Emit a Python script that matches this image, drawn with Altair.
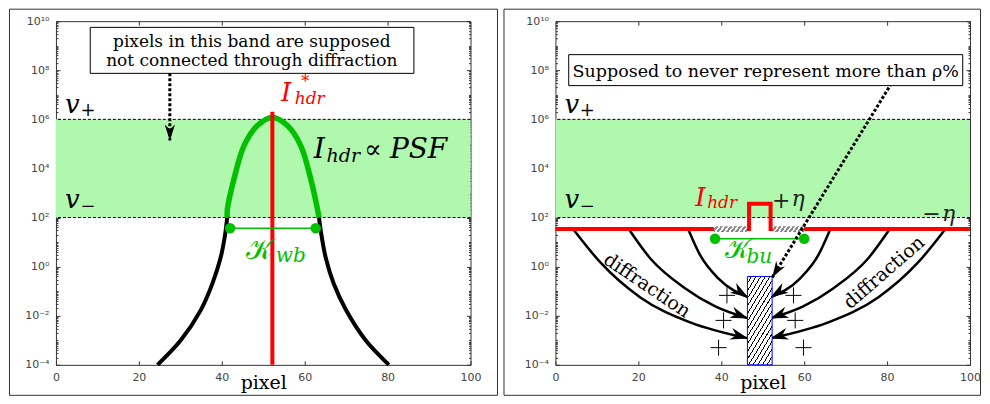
import altair as alt
import pandas as pd

W, H = 415, 344
SERIF = "DejaVu Serif"
SANS = "DejaVu Sans"
GREEN = "#00c000"
BAND = "#b0f8ae"
RED = "#ff0000"

# ---------------- axes data ----------------
x_ticks = [0, 20, 40, 60, 80, 100]
x_ticks_top = [20, 40, 60, 80]
y_major = [1e-4, 1e-2, 1.0, 1e2, 1e4, 1e6, 1e8, 1e10]
y_labels = ["10⁻⁴", "10⁻²", "10⁰", "10²", "10⁴", "10⁶", "10⁸", "10¹⁰"]
y_minor = [m * 10.0 ** k for k in range(-4, 10) for m in range(2, 10)] + [10.0 ** k for k in range(-3, 10, 2)]

v_minus, v_plus = 1e2, 1e6

# ---------------- left panel data ----------------
psf_x = [24.5, 30.1, 34.9, 37.71, 39.76, 40.84, 41.3, 41.37, 42.96, 45.37, 48.6, 52.2,
         55.83, 59.04, 61.45, 63.06, 63.45, 63.98, 65.06, 66.99, 70.0, 74.7, 80.3]
psf_exp = [-4.0, -3.0, -1.78, -0.70, 0.39, 1.35, 2.0, 2.36, 3.58, 4.93, 5.75, 6.08,
           5.75, 4.93, 3.58, 2.36, 2.0, 1.35, 0.37, -0.69, -1.78, -3.0, -4.0]
green_from, green_to = 41.3, 63.45
peak_x = 52.2
peak_top_exp = 6.31
kwb_x = [42.0, 62.65]
kwb_exp = 1.567
note1_box = dict(x=8.27, x2=86.34, e=9.748, e2=7.875)
note1_arrow_x = [27.47, 27.47]
note1_arrow_exp = [7.875, 5.136]

# ---------------- right panel data ----------------
step_x = [0, 46.7, 46.7, 51.9, 51.9, 100]
step_exp = [1.53, 1.53, 2.56, 2.56, 1.53, 1.53]
hatch_segs = [(38.2, 46.2), (52.4, 60.0)]
kbu_x = [38.5, 60.0]
kbu_exp = 1.136
pix_x = [46.31, 52.27]
pix_top_exp = -0.40
plus_lx = [41.37, 40.55, 39.35]
plus_rx = [57.42, 57.83, 59.83]
plus_exp = [-1.17, -2.19, -3.30]
arcs = {
    "L1": ([4.34, 10.84, 20.48, 32.53, 46.51], [1.514, 0.171, -1.254, -2.271, -2.923], 15),
    "L2": ([17.59, 22.89, 31.33, 38.55, 46.51], [1.555, 0.334, -0.887, -1.620, -2.108], 20),
    "L3": ([32.05, 34.94, 39.28, 46.51], [1.514, 0.456, -0.480, -1.254], 32),
    "R1": ([51.81, 59.04, 63.37, 66.27], [-1.254, -0.480, 0.456, 1.514], 148),
    "R2": ([51.81, 59.76, 66.99, 75.42, 80.72], [-2.108, -1.620, -0.887, 0.334, 1.555], 160),
    "R3": ([51.81, 65.78, 77.83, 87.47, 93.98], [-2.923, -2.271, -1.254, 0.171, 1.514], 165),
}
note2_box = dict(x=3.20, x2=98.24, e=8.637, e2=7.375)
note2_arrow_x = [52.29, 80.72]
note2_arrow_exp = [-0.44, 7.375]

ARROW = "M0,0L-2,-0.65L-1.4,0L-2,0.65Z"
PLUS = "M-1,0L1,0M0,-1L0,1"


def X(field, axis=None):
    return alt.X(field, type="quantitative", axis=axis,
                 scale=alt.Scale(domain=[0, 100], nice=False, zero=False))


def Y(field, axis=None):
    return alt.Y(field, type="quantitative", axis=axis,
                 scale=alt.Scale(type="log", domain=[1e-4, 1e10], nice=False))


label_expr = ""
for v, lab in zip(y_major[:-1], y_labels[:-1]):
    label_expr += f"datum.value < {v * 3} ? '{lab}' : "
label_expr += f"'{y_labels[-1]}'"

TICK = dict(domain=False, grid=False, tickColor="#333", tickWidth=1)
ax_bottom = alt.Axis(orient="bottom", values=x_ticks, offset=-4, tickSize=4, labelPadding=7,
                     labelFont=SANS, labelFontSize=11, labelColor="#444", labelFlush=False,
                     title="pixel", titleFont=SERIF, titleFontSize=19, titleFontWeight="normal",
                     titleColor="black", titleBaseline="alphabetic", titleY=28, **TICK)
ax_top = alt.Axis(orient="top", values=x_ticks_top, offset=-4, tickSize=4, labels=False, title=None, **TICK)
ax_left = alt.Axis(orient="left", values=y_major, labelExpr=label_expr, offset=-4, tickSize=4,
                   labelPadding=7, labelFont=SANS, labelFontSize=11, labelColor="#444",
                   labelFlush=False, labelOverlap=False, title=None, **TICK)
ax_left_minor = alt.Axis(orient="left", values=y_minor, offset=-2, tickSize=2, labels=False, title=None, **TICK)
ax_right = alt.Axis(orient="right", values=y_major, offset=-4, tickSize=4, labels=False, title=None, **TICK)
ax_right_minor = alt.Axis(orient="right", values=y_minor, offset=-2, tickSize=2, labels=False, title=None, **TICK)

carrier = pd.DataFrame({"x": [0, 100], "y": [1e-4, 1e10]})


def axis_layers():
    out = []
    for xa, ya in [(ax_bottom, ax_left), (ax_top, ax_left_minor), (None, ax_right), (None, ax_right_minor)]:
        out.append(alt.Chart(carrier).mark_point(opacity=0).encode(x=X("x", xa), y=Y("y", ya)))
    return out


def band_layers():
    band_df = pd.DataFrame({"x": [0], "x2": [100], "y": [v_minus], "y2": [v_plus]})
    rect = alt.Chart(band_df).mark_rect(color=BAND).encode(
        x=X("x"), x2="x2", y=Y("y"), y2="y2")
    rules = alt.Chart(pd.DataFrame({"y": [v_minus, v_plus]})).mark_rule(
        color="black", strokeWidth=1, strokeDash=[3, 2]).encode(y=Y("y"))
    return [rect, rules]


def text_layer(rows, italic, baseline="alphabetic"):
    df = pd.DataFrame(rows, columns=["text", "x", "e", "size", "color", "angle"])
    df["y"] = 10.0 ** df["e"]
    return alt.Chart(df).mark_text(font=SERIF, fontStyle="italic" if italic else "normal",
                                   align="center", baseline=baseline).encode(
        x=X("x"), y=Y("y"), text="text:N",
        size=alt.Size("size:Q", scale=None),
        color=alt.Color("color:N", scale=None),
        angle=alt.Angle("angle:Q", scale=None))


def box_layer(b):
    df = pd.DataFrame({"x": [b["x"]], "x2": [b["x2"]], "y": [10 ** b["e"]], "y2": [10 ** b["e2"]]})
    return alt.Chart(df).mark_rect(fill="white", stroke="black", strokeWidth=1).encode(
        x=X("x"), x2="x2", y=Y("y"), y2="y2")


def dotted_line(xs, es):
    df = pd.DataFrame({"x": xs, "y": [10 ** e for e in es]})
    return alt.Chart(df).mark_line(color="black", strokeWidth=3, strokeDash=[3, 2]).encode(
        x=X("x"), y=Y("y"))


def heads_layer(rows, size=324):
    df = pd.DataFrame(rows, columns=["x", "e", "angle"])
    df["y"] = 10.0 ** df["e"]
    return alt.Chart(df).mark_point(shape=ARROW, filled=True, color="black", opacity=1,
                                    size=size, strokeWidth=0).encode(
        x=X("x"), y=Y("y"), angle=alt.Angle("angle:Q", scale=None))


def frame(x0, x1):
    return alt.Chart(pd.DataFrame({"a": [0]})).mark_rect(
        fill="transparent", stroke="#333", strokeWidth=1).encode(
        x=alt.value(x0), x2=alt.value(x1), y=alt.value(-12), y2=alt.value(374.5))


def stripes(n, frac, c1, c2, x2, y2):
    stops = []
    for i in range(n):
        a, b, c = i / n, (i + frac) / n, (i + 1) / n
        stops += [alt.GradientStop(offset=a, color=c1), alt.GradientStop(offset=b, color=c1),
                  alt.GradientStop(offset=b, color=c2), alt.GradientStop(offset=c, color=c2)]
    return alt.LinearGradient(gradient="linear", stops=stops, x1=0, y1=0, x2=x2, y2=y2)


# ================= LEFT PANEL =================
rows = []
for x, e in zip(psf_x, psf_exp):
    v = 10.0 ** e
    if x <= green_from:
        rows.append({"x": x, "y": v, "seg": "L"})
    if green_from <= x <= green_to:
        rows.append({"x": x, "y": v, "seg": "G"})
    if x >= green_to:
        rows.append({"x": x, "y": v, "seg": "R"})
psf_df = pd.DataFrame(rows)

psf_black = alt.Chart(psf_df[psf_df.seg != "G"]).mark_line(
    color="black", strokeWidth=4, interpolate="catmull-rom").encode(x=X("x"), y=Y("y"), detail="seg:N")
psf_green = alt.Chart(psf_df[psf_df.seg == "G"]).mark_line(
    color=GREEN, strokeWidth=5.5, interpolate="catmull-rom").encode(x=X("x"), y=Y("y"))
peak = alt.Chart(pd.DataFrame({"x": [peak_x], "y": [1e-4], "y2": [10 ** peak_top_exp]})).mark_rule(
    color=RED, strokeWidth=4).encode(x=X("x"), y=Y("y"), y2="y2")
kwb_df = pd.DataFrame({"x": kwb_x, "y": [10 ** kwb_exp] * 2})
kwb_line = alt.Chart(kwb_df).mark_line(color=GREEN, strokeWidth=1.5).encode(x=X("x"), y=Y("y"))
kwb_dots = alt.Chart(kwb_df).mark_circle(color=GREEN, size=110, opacity=1).encode(x=X("x"), y=Y("y"))

left_italic = [
    ("v", 3.98, 6.276, 26, "black", 0),
    ("v", 3.98, 2.369, 26, "black", 0),
    ("I", 55.54, 6.764, 26, RED, 0),
    ("hdr", 61.2, 6.642, 17, RED, 0),
    ("I", 63.49, 4.444, 28, "black", 0),
    ("hdr", 69.3, 4.281, 19, "black", 0),
    ("PSF", 87.47, 4.444, 28, "black", 0),
    ("wb", 56.63, 0.171, 20, GREEN, 0),
]
left_normal = [
    ("+", 7.71, 6.154, 18, "black", 0),
    ("−", 7.71, 2.206, 18, "black", 0),
    ("*", 60.1, 7.3, 16, RED, 0),
    ("∝", 76.51, 4.444, 26, "black", 0),
    ("pixels in this band are supposed", 47.23, 8.942, 17, "black", 0),
    ("not connected through diffraction", 47.23, 8.168, 17, "black", 0),
    ("𝒦", 48.92, 0.293, 28, GREEN, 0),
]

left_layers = (axis_layers() + band_layers() + [
    psf_black, psf_green, peak, kwb_line, kwb_dots,
    box_layer(note1_box),
    dotted_line(note1_arrow_x, note1_arrow_exp),
    heads_layer([(note1_arrow_x[1], note1_arrow_exp[1], 90)], size=256),
    text_layer(left_italic, True), text_layer(left_normal, False),
    frame(-46.5, 442),
])
left = alt.layer(*left_layers).resolve_scale(x="independent", y="independent").resolve_axis(
    x="independent", y="independent").properties(width=W, height=H)

# ================= RIGHT PANEL =================
step_df = pd.DataFrame({"x": step_x, "y": [10 ** e for e in step_exp], "o": list(range(len(step_x)))})
step = alt.Chart(step_df).mark_line(color=RED, strokeWidth=4).encode(
    x=X("x"), y=Y("y"), order="o:Q")
seg_df = pd.DataFrame({"x": [a for a, b in hatch_segs], "x2": [b for a, b in hatch_segs],
                       "y": [10 ** (step_exp[0] - 0.12)] * 2, "y2": [10 ** (step_exp[0] + 0.12)] * 2})
segs = alt.Chart(seg_df).mark_rect(fill=stripes(8, 0.45, "#f4f4f4", "#8a8a8a", 1.109, 0.141)).encode(
    x=X("x"), x2="x2", y=Y("y"), y2="y2")
kbu_df = pd.DataFrame({"x": kbu_x, "y": [10 ** kbu_exp] * 2})
kbu_line = alt.Chart(kbu_df).mark_line(color=GREEN, strokeWidth=1.5).encode(x=X("x"), y=Y("y"))
kbu_dots = alt.Chart(kbu_df).mark_circle(color=GREEN, size=110, opacity=1).encode(x=X("x"), y=Y("y"))

arc_rows, head_rows = [], []
for name, (xs, es, ang) in arcs.items():
    for x, e in zip(xs, es):
        arc_rows.append({"arc": name, "x": x, "y": 10 ** e})
    tip = 0 if name.startswith("R") else -1
    head_rows.append((xs[tip], es[tip], ang))
arc_lines = alt.Chart(pd.DataFrame(arc_rows)).mark_line(
    color="black", strokeWidth=2.5, interpolate="monotone").encode(x=X("x"), y=Y("y"), detail="arc:N")

pix_df = pd.DataFrame({"x": [pix_x[0]], "x2": [pix_x[1]], "y": [1e-4], "y2": [10 ** pix_top_exp]})
pix = alt.Chart(pix_df).mark_rect(fill=stripes(17, 0.78, "white", "black", 0.554, 1.205),
                                  stroke="#0000ff", strokeWidth=1).encode(
    x=X("x"), x2="x2", y=Y("y"), y2="y2")
plus_df = pd.DataFrame({"x": plus_lx + plus_rx, "y": [10 ** e for e in plus_exp] * 2})
plus = alt.Chart(plus_df).mark_point(shape=PLUS, filled=False, color="black", strokeWidth=1,
                                     size=256, opacity=1).encode(x=X("x"), y=Y("y"))

right_italic = [
    ("v", 3.98, 6.276, 26, "black", 0),
    ("v", 3.98, 2.369, 26, "black", 0),
    ("I", 34.94, 2.491, 26, RED, 0),
    ("hdr", 40.2, 2.369, 17, RED, 0),
    ("η", 58.55, 2.491, 22, "#222", 0),
    ("η", 94.82, 1.880, 22, "#222", 0),
    ("bu", 49.16, 0.130, 20, GREEN, 0),
]
right_normal = [
    ("+", 7.71, 6.154, 18, "black", 0),
    ("−", 7.71, 2.206, 18, "black", 0),
    ("+", 54.46, 2.369, 22, "#222", 0),
    ("−", 90.72, 1.880, 22, "#222", 0),
    ("Supposed to never represent more than ρ%", 50.72, 7.741, 17.5, "black", 0),
    ("𝒦", 43.86, 0.334, 26, GREEN, 0),
]
right_rot = [
    ("diffraction", 22.10, -0.765, 19, "black", 34),
    ("diffraction", 79.28, -0.236, 19, "black", 319),
]

right_layers = (axis_layers() + band_layers() + [
    arc_lines, heads_layer(head_rows),
    step, segs, kbu_line, kbu_dots, pix, plus,
    box_layer(note2_box),
    dotted_line(note2_arrow_x, note2_arrow_exp),
    heads_layer([(note2_arrow_x[0], note2_arrow_exp[0], 121.7)], size=256),
    text_layer(right_italic, True), text_layer(right_normal, False),
    text_layer(right_rot, False, baseline="middle"),
    frame(-51.5, 425.5),
])
right = alt.layer(*right_layers).resolve_scale(x="independent", y="independent").resolve_axis(
    x="independent", y="independent").properties(width=W, height=H)

chart = alt.hconcat(left, right, spacing=85, bounds="flush", padding=0).configure_view(
    stroke="#333", strokeWidth=1)

chart.save("out.html", embed_options={"renderer": "svg", "actions": False})
